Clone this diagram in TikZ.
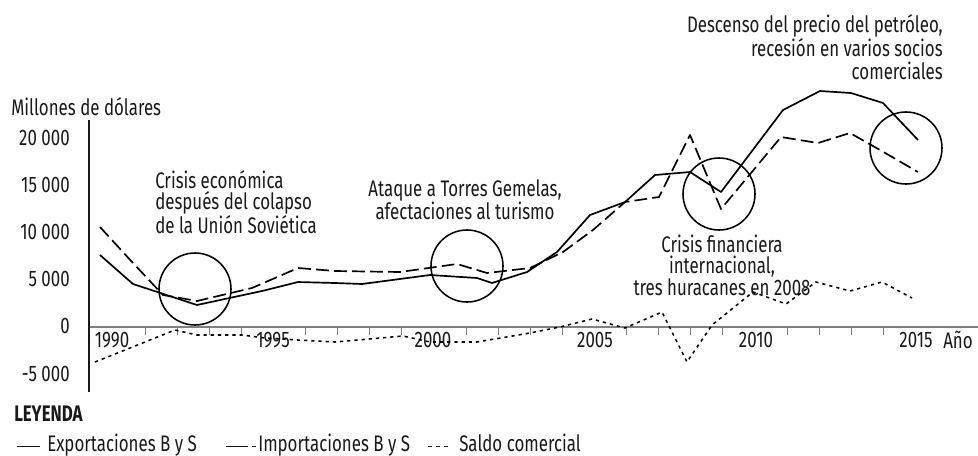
\documentclass[tikz,border=0pt]{standalone}
\usepackage{fontspec}
\setmainfont{Fira Sans}[FakeStretch=0.75]
\usepackage{tikz}
\definecolor{axisgray}{gray}{0.5}
\definecolor{ink}{gray}{0.1}

\begin{document}
\begin{tikzpicture}[
			     x=0.025cm, y=-0.025cm,
			     every node/.style={font=\fontsize{16}{15}\selectfont, text=ink, inner sep=0pt},
			     note/.style={align=center},
			     export line/.style={line width=1.2pt, line join=round},
			     import line/.style={line width=1.2pt, line join=round, dash pattern=on 0.32cm off 0.13cm},
			     saldo line/.style={line width=1.1pt, dash pattern=on 0.08cm off 0.1cm},
			     event/.style={draw, circle, line width=1.1pt, minimum size=1.8cm},
			     tick mark/.style={draw=axisgray, line width=0.6pt},
			     ylabel/.style={anchor=east},
			     key/.style={anchor=west},
			     key text/.style={anchor=base west}
			     ]
\useasboundingbox (0,0) rectangle (978,455);
% ejes
\draw[axisgray, line width=1.6pt] (89,327) -- (978,327);
\draw[ink, line width=1.4pt] (89,120) -- (89,392);
\foreach \yr in {1991,1992,1993,1994,1996,1997,1998,1999,2001,2002,2003,2004,2006,2007,2008,2009,2011,2012,2013,2014}
  \draw[tick mark] ({113+32.1*(\yr-1990)},327) -- ++(0,8);
\node[anchor=west] (unidad) at (11,107) {Millones de dólares};
\node[ylabel] (y20) at (70,138) {20 000};
\node[ylabel] (y15) at (70,185) {15 000};
\node[ylabel] (y10) at (70,232) {10 000};
\node[ylabel] (y5) at (70,279) {5 000};
\node[ylabel] (y0) at (70,326) {0};
\node[ylabel] (ym5) at (70,374) {-5 000};
\node (x1990) at (112,340) {1990};
\node (x1995) at (273,340) {1995};
\node (x2000) at (433,340) {2000};
\node (x2005) at (595,340) {2005};
\node (x2010) at (756,340) {2010};
\node (x2015) at (916,340) {2015};
\node (anio) at (958,340) {Año};
% series
\draw[export line] plot coordinates {(100,255) (133,284) (197,305) (262,291) (298,282) (335,283) (362,284) (430,275) (477,278) (492,283) (527,272) (557,252) (590,215) (625,202) (655,175) (690,172) (721,192) (783,110) (820,91) (851,93) (883,103) (918,140)};
\draw[import line] plot coordinates {(100,227) (133,263) (163,295) (197,301) (252,288) (298,268) (335,271) (400,272) (457,264) (487,273) (530,268) (563,252) (593,230) (625,202) (659,197) (690,135) (721,209) (781,137) (818,143) (850,133) (880,150) (918,172)};
\draw[saldo line] plot coordinates {(95,362) (175,330) (197,335) (242,335) (265,338) (298,340) (335,342) (403,336) (430,342) (477,342) (530,333) (560,327) (592,319) (625,328) (662,312) (687,362) (712,325) (753,292) (786,304) (816,282) (850,291) (882,282) (912,298)};
% acontecimientos
\node[event] (urss) at (195,289) {};
\node[event] (torres) at (467,266) {};
\node[event] (crisis) at (719,194) {};
\node[event] (petroleo) at (906,148) {};
\node[note, align=left, anchor=north west] (t-urss) at (155,170) {Crisis económica\\después del colapso\\de la Unión Soviética};
\node[note, anchor=north] (t-torres) at (465,179) {Ataque a Torres Gemelas,\\afectaciones al turismo};
\node[note, anchor=north] (t-crisis) at (722,235) {Crisis financiera\\internacional,\\tres huracanes en 2008};
\node[note, align=right, anchor=north east, font=\fontsize{16}{16}\selectfont] (t-petroleo) at (943,14) {Descenso del precio del petróleo,\\recesión en varios socios\\comerciales};
% leyenda
\node[anchor=west, font=\fontsize{16}{15}\selectfont\bfseries] (leyenda) at (14,414) {LEYENDA};
\node[key] (k-exp) at (17,446) {\rule{0.58cm}{0.7pt}};
\node[key text] (l-exp) at (47,451) {Exportaciones B y S};
\node[key] (k-imp) at (226,446) {\rule{0.55cm}{0.7pt}\hspace{0.1cm}\rule{0.1cm}{0.7pt}};
\node[key text] (l-imp) at (258,451) {Importaciones B y S};
\node[key] (k-sal) at (428,446) {\rule{0.1cm}{0.7pt}\hspace{0.1cm}\rule{0.1cm}{0.7pt}\hspace{0.1cm}\rule{0.1cm}{0.7pt}};
\node[key text] (l-sal) at (459,451) {Saldo comercial};
\end{tikzpicture}
\end{document}
